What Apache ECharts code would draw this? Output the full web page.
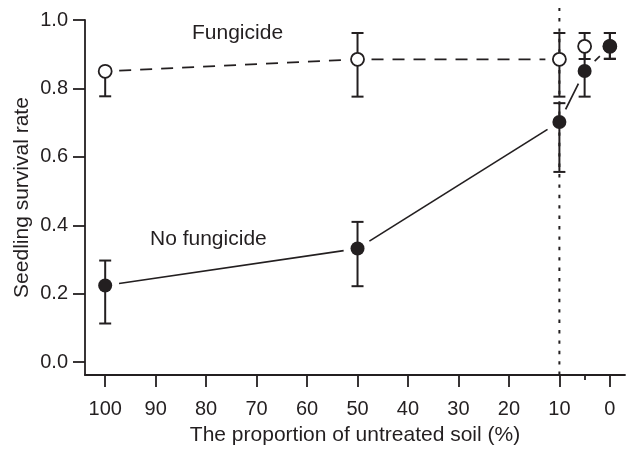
<!DOCTYPE html>
<html>
<head>
<meta charset="utf-8">
<script src="https://cdn.jsdelivr.net/npm/echarts@6/dist/echarts.min.js"></script>
<style>
  html, body { margin: 0; padding: 0; background: #fff; }
  #chart { width: 627px; height: 451px; }
</style>
</head>
<body>
<div id="chart"></div>
<script>
// proportion of untreated soil (%)
var proportions = [100, 50, 10, 5, 0];

// fungicide (open circles)
var fungMean = [0.850, 0.885, 0.885, 0.923, 0.923];
var fungLow  = [0.777, 0.776, 0.776, 0.886, 0.886];
var fungHigh = [0.858, 0.962, 0.962, 0.962, 0.962];

// no fungicide (filled circles)
var noFungMean = [0.224, 0.332, 0.702, 0.851, 0.923];
var noFungLow  = [0.113, 0.222, 0.556, 0.776, 0.887];
var noFungHigh = [0.297, 0.410, 0.757, 0.926, 0.962];

var xTicks = [0, 10, 20, 30, 40, 50, 60, 70, 80, 90, 100];
var yTicks = [0, 0.2, 0.4, 0.6, 0.8, 1.0];
var cutoff = 10;

var ink = '#231f20';
var font = "'Liberation Sans', Arial, Helvetica, sans-serif";

var chart = echarts.init(document.getElementById('chart'));

function pointsOf(xs, ys) {
    return xs.map(function (x, i) { return [x, ys[i]]; });
}

function segmentsOf(xs, ys) {
    var segs = [];
    for (var i = 0; i < xs.length - 1; i++) {
        segs.push([xs[i], ys[i], xs[i + 1], ys[i + 1]]);
    }
    return segs;
}

function barsOf(xs, lo, hi) {
    return xs.map(function (x, i) { return [x, lo[i], hi[i]]; });
}

// lines that stop short of the markers
function renderGapLine(dash) {
    return function (params, api) {
        var a = api.coord([api.value(0), api.value(1)]);
        var b = api.coord([api.value(2), api.value(3)]);
        var dx = b[0] - a[0], dy = b[1] - a[1];
        var len = Math.sqrt(dx * dx + dy * dy);
        var gap = 14;
        if (len <= gap * 2 + 1) return;
        var ux = dx / len, uy = dy / len;
        return {
            type: 'line',
            shape: {
                x1: a[0] + ux * gap, y1: a[1] + uy * gap,
                x2: b[0] - ux * gap, y2: b[1] - uy * gap
            },
            style: { stroke: ink, lineWidth: 1.7, lineDash: dash }
        };
    };
}

function renderErrorBar(params, api) {
    var x = api.value(0);
    var lo = api.coord([x, api.value(1)]);
    var hi = api.coord([x, api.value(2)]);
    var w = 6;
    var st = { stroke: ink, lineWidth: 2 };
    return {
        type: 'group',
        children: [
            { type: 'line', shape: { x1: lo[0], y1: lo[1], x2: hi[0], y2: hi[1] }, style: st },
            { type: 'line', shape: { x1: lo[0] - w, y1: lo[1], x2: lo[0] + w, y2: lo[1] }, style: st },
            { type: 'line', shape: { x1: hi[0] - w, y1: hi[1], x2: hi[0] + w, y2: hi[1] }, style: st }
        ]
    };
}

function renderCutoff(params, api) {
    var bottom = api.coord([cutoff, -0.0375]);
    var top = api.coord([cutoff, 1.0]);
    return {
        type: 'line',
        shape: { x1: bottom[0], y1: bottom[1], x2: top[0], y2: top[1] - 12 },
        style: { stroke: ink, lineWidth: 2, lineDash: [3.4, 7] }
    };
}

var labelStyle = { color: ink, fontSize: 20, fontFamily: font };
var nameStyle = { color: ink, fontSize: 21, fontFamily: font };

var option = {
    animation: false,
    grid: { left: 85, right: 2, top: 20, bottom: 71, containLabel: false },
    xAxis: [{
        type: 'value',
        inverse: true,
        min: -3,
        max: 104,
        name: 'The proportion of untreated soil (%)',
        nameLocation: 'middle',
        nameGap: 50,
        nameMoveOverlap: false,
        nameTextStyle: nameStyle,
        axisLine: { onZero: false, lineStyle: { color: ink, width: 1.8 } },
        axisTick: { customValues: xTicks, length: 12, lineStyle: { color: ink, width: 1.8 } },
        axisLabel: Object.assign({ customValues: xTicks, margin: 24 }, labelStyle),
        splitLine: { show: false }
    }, {
        type: 'value',
        inverse: true,
        min: -3,
        max: 104,
        position: 'bottom',
        axisLine: { show: false, onZero: false },
        axisTick: { customValues: [5], length: 5, lineStyle: { color: ink, width: 1.8 } },
        axisLabel: { show: false },
        splitLine: { show: false }
    }],
    yAxis: {
        type: 'value',
        min: -0.0375,
        max: 1.0,
        name: 'Seedling survival rate',
        nameLocation: 'middle',
        nameGap: 52,
        nameMoveOverlap: false,
        nameTextStyle: nameStyle,
        axisLine: { show: true, onZero: false, lineStyle: { color: ink, width: 1.8 } },
        axisTick: { show: true, customValues: yTicks, length: 12, lineStyle: { color: ink, width: 1.8 } },
        axisLabel: Object.assign({
            customValues: yTicks,
            margin: 17,
            formatter: function (v) { return v.toFixed(1); }
        }, labelStyle),
        splitLine: { show: false }
    },
    graphic: [
        { type: 'text', left: 192, top: 23, style: { text: 'Fungicide', fill: ink, font: '21px ' + font } },
        { type: 'text', left: 150, top: 229, style: { text: 'No fungicide', fill: ink, font: '21px ' + font } }
    ],
    series: [
        {
            type: 'custom',
            name: 'cutoff',
            renderItem: renderCutoff,
            data: [[cutoff, 0]],
            clip: false,
            silent: true,
            z: 1
        },
        {
            type: 'custom',
            name: 'Fungicide line',
            renderItem: renderGapLine([12, 9]),
            data: segmentsOf(proportions, fungMean),
            silent: true,
            z: 2
        },
        {
            type: 'custom',
            name: 'No fungicide line',
            renderItem: renderGapLine(null),
            data: segmentsOf(proportions, noFungMean),
            silent: true,
            z: 2
        },
        {
            type: 'custom',
            name: 'Fungicide error',
            renderItem: renderErrorBar,
            data: barsOf(proportions, fungLow, fungHigh),
            silent: true,
            z: 3
        },
        {
            type: 'custom',
            name: 'No fungicide error',
            renderItem: renderErrorBar,
            data: barsOf(proportions, noFungLow, noFungHigh),
            silent: true,
            z: 3
        },
        {
            type: 'scatter',
            name: 'Fungicide',
            data: pointsOf(proportions, fungMean),
            symbol: 'circle',
            symbolSize: 13,
            itemStyle: { color: '#fff', borderColor: ink, borderWidth: 1.8, opacity: 1 },
            z: 4
        },
        {
            type: 'scatter',
            name: 'No fungicide',
            data: pointsOf(proportions, noFungMean),
            symbol: 'circle',
            symbolSize: 14,
            itemStyle: { color: ink, opacity: 1 },
            z: 5
        }
    ]
};

chart.setOption(option);
</script>
</body>
</html>
